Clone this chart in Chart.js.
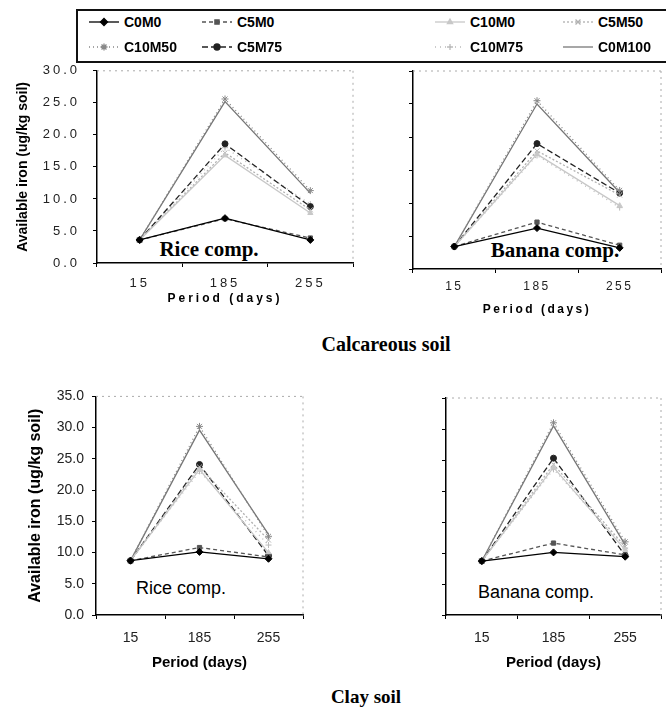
<!DOCTYPE html>
<html>
<head>
<meta charset="utf-8">
<script src="https://cdn.jsdelivr.net/npm/chart.js@4.4.1/dist/chart.umd.min.js"></script>
<style>
  body { margin: 0; width: 666px; height: 712px; background: #fff; position: relative; overflow: hidden;
         font-family: "Liberation Sans", Arial, sans-serif; color: #000; }
  canvas { position: absolute; }
  .txt { position: absolute; transform: translate(-50%, -50%); white-space: nowrap; }
  .serif { font-family: "Liberation Serif", "Times New Roman", serif; font-weight: bold; }
  .sans { font-family: "Liberation Sans", Arial, sans-serif; }
  #legend { position: absolute; left: 76px; top: 9px; width: 610px; height: 50px; border: 2px solid #111; }
  .lg { position: absolute; font: bold 14px "Liberation Sans", Arial, sans-serif; transform: translateY(-50%); }
</style>
</head>
<body>
<div id="legend"></div>

<div class="txt serif" style="left:209px;top:249px;font-size:21px">Rice comp.</div>
<div class="txt serif" style="left:555px;top:250px;font-size:21px">Banana comp.</div>
<div class="txt sans" style="left:181px;top:588px;font-size:18px">Rice comp.</div>
<div class="txt sans" style="left:536px;top:592px;font-size:18px">Banana comp.</div>
<div class="txt serif" style="left:386px;top:344px;font-size:20px">Calcareous soil</div>
<div class="txt serif" style="left:366px;top:697px;font-size:19px">Clay soil</div>

<script>
var periods = ['15', '185', '255'];
var seriesNames = ['C0M0', 'C5M0', 'C10M0', 'C5M50', 'C10M50', 'C5M75', 'C10M75', 'C0M100'];

// one row per series, same order as seriesNames
var calcareousRice = [
  [3.6, 7.0, 3.6],
  [3.6, 6.9, 3.9],
  [3.6, 16.8, 7.8],
  [3.6, 17.2, 8.3],
  [3.6, 25.6, 11.3],
  [3.6, 18.6, 8.8],
  [3.6, 18.0, 9.2],
  [3.6, 25.2, 10.9]
];
var calcareousBanana = [
  [3.4, 6.2, 3.2],
  [3.4, 7.1, 3.6],
  [3.4, 17.4, 9.6],
  [3.4, 17.9, 11.2],
  [3.4, 25.5, 11.9],
  [3.4, 19.0, 11.5],
  [3.4, 17.2, 9.3],
  [3.4, 25.0, 11.6]
];
var clayRice = [
  [8.7, 10.1, 9.0],
  [8.7, 10.8, 9.3],
  [8.7, 23.3, 10.0],
  [8.7, 23.7, 12.0],
  [8.7, 30.2, 12.6],
  [8.7, 24.1, 9.5],
  [8.7, 23.0, 11.2],
  [8.7, 29.6, 12.9]
];
var clayBanana = [
  [8.7, 10.1, 9.4],
  [8.7, 11.6, 9.7],
  [8.7, 23.8, 10.5],
  [8.7, 24.3, 11.0],
  [8.7, 31.0, 11.8],
  [8.7, 25.3, 9.6],
  [8.7, 23.5, 10.8],
  [8.7, 30.5, 11.3]
];

var lineColors = ['#000', '#555', '#c8c8c8', '#b0b0b0', '#888', '#222', '#bbb', '#777'];
var lineDashes = [[], [4, 3], [], [2, 2], [1, 3], [6, 3], [1, 4], []];
var markers = ['rectRot', 'rect', 'triangle', 'crossRot', 'star', 'circle', 'cross', 'circle'];
var markerSizes = [3.5, 3, 3, 3.5, 3.5, 3, 3, 0];

var legendCols = [124, 237, 470, 598];
var legendRows = [22, 47];

// letter spacing on the scanned axis text
function letterSpace(scale, px) {
  if (!px || scale._spaced) return;
  scale._spaced = true;
  ['drawTitle', 'drawLabels'].forEach(function (fn) {
    var orig = scale[fn];
    scale[fn] = function () {
      this.ctx.letterSpacing = px + 'px';
      orig.apply(this, arguments);
      this.ctx.letterSpacing = '0px';
    };
  });
}

// y axis: space the tick numbers only, not the long title
function letterSpaceLabels(scale, px) {
  if (!px || scale._spaced) return;
  scale._spaced = true;
  var orig = scale.drawLabels;
  scale.drawLabels = function () {
    this.ctx.letterSpacing = px + 'px';
    orig.apply(this, arguments);
    this.ctx.letterSpacing = '0px';
  };
}

// faint dotted top and right edges of each plot
var dottedFrame = {
  id: 'dottedFrame',
  afterDraw: function (chart) {
    var a = chart.chartArea, ctx = chart.ctx;
    ctx.save();
    ctx.strokeStyle = '#aaa';
    ctx.lineWidth = 1;
    ctx.setLineDash([2, 4]);
    ctx.beginPath();
    ctx.moveTo(a.left, a.top); ctx.lineTo(a.right, a.top);
    ctx.moveTo(a.right, a.top); ctx.lineTo(a.right, a.bottom);
    ctx.stroke();
    ctx.restore();
  }
};

function makePanel(p) {
  var cv = document.createElement('canvas');
  cv.width = p.w; cv.height = p.h;
  cv.style.left = p.x + 'px'; cv.style.top = p.y + 'px';
  cv.style.width = p.w + 'px'; cv.style.height = p.h + 'px';
  document.body.appendChild(cv);

  var datasets = p.values.map(function (row, i) {
    return {
      label: seriesNames[i],
      data: row,
      borderColor: lineColors[i],
      backgroundColor: lineColors[i],
      borderDash: lineDashes[i],
      borderWidth: 1.3,
      pointStyle: markers[i],
      pointRadius: markerSizes[i],
      pointBorderWidth: 1,
      tension: 0
    };
  });

  return new Chart(cv.getContext('2d'), {
    type: 'line',
    data: { labels: periods, datasets: datasets },
    options: {
      responsive: false,
      animation: false,
      events: [],
      layout: { padding: { left: 0, top: p.padTop, right: p.padRight, bottom: p.padBottom } },
      plugins: { legend: { display: false }, tooltip: { enabled: false } },
      scales: {
        x: {
          offset: true,
          grid: { display: true, drawOnChartArea: false, offset: true, tickLength: 4, color: '#000' },
          border: { color: '#000', width: 1.5 },
          ticks: { color: '#222', font: { size: p.xFont, family: 'Liberation Sans' }, padding: p.xPad, maxRotation: 0 },
          title: { display: true, text: 'Period (days)', color: '#000', padding: 0,
                   font: { size: p.xTitleFont, weight: 'bold', family: 'Liberation Sans', lineHeight: 1 } },
          afterFit: function (s) { s.height = p.xHeight; letterSpace(s, p.spacing); }
        },
        y: {
          min: 0, max: p.yMax,
          grid: { display: true, drawOnChartArea: false, tickLength: 4, color: '#000' },
          border: { color: '#000', width: 1.5 },
          ticks: { stepSize: 5, display: p.yLabels, color: '#222', padding: p.yPad,
                   font: { size: p.yFont, family: 'Liberation Sans' },
                   callback: function (v) { return v.toFixed(1); } },
          title: { display: p.yLabels, text: 'Available iron (ug/kg soil)', color: '#000', padding: { top: p.yTitlePad, bottom: 0 },
                   font: { size: p.yTitleFont, weight: 'bold', family: 'Liberation Sans', lineHeight: 1 } },
          afterFit: function (s) { s.width = p.yWidth; letterSpaceLabels(s, p.spacing); }
        }
      }
    },
    plugins: [dottedFrame]
  });
}

makePanel({ x: 0, y: 50, w: 362, h: 270, padTop: 17, padRight: 9, padBottom: 15,
  values: calcareousRice, yMax: 30, yLabels: true, yWidth: 97, yPad: 13, yFont: 13,
  yTitleFont: 14, yTitlePad: 16, xFont: 13, xPad: 9, xTitleFont: 12, xHeight: 42, spacing: 3 });

makePanel({ x: 380, y: 50, w: 286, h: 290, padTop: 21, padRight: 1, padBottom: 24,
  values: calcareousBanana, yMax: 30, yLabels: false, yWidth: 33, yPad: 0, yFont: 12,
  yTitleFont: 12, yTitlePad: 0, xFont: 12, xPad: 6, xTitleFont: 12, xHeight: 47, spacing: 2.5 });

makePanel({ x: 0, y: 380, w: 320, h: 300, padTop: 12, padRight: 17, padBottom: 10,
  values: clayRice, yMax: 35, yLabels: true, yWidth: 96, yPad: 8, yFont: 14,
  yTitleFont: 16, yTitlePad: 28, xFont: 14, xPad: 11, xTitleFont: 15, xHeight: 55, spacing: 0 });

makePanel({ x: 420, y: 380, w: 246, h: 300, padTop: 18, padRight: 1, padBottom: 10,
  values: clayBanana, yMax: 35, yLabels: false, yWidth: 26, yPad: 0, yFont: 12,
  yTitleFont: 12, yTitlePad: 0, xFont: 14, xPad: 11, xTitleFont: 15, xHeight: 55, spacing: 0 });

// legend: line sample with the series marker, then the name
seriesNames.forEach(function (name, i) {
  var x = legendCols[i % 4];
  var y = legendRows[Math.floor(i / 4)];
  var cv = document.createElement('canvas');
  cv.width = 32; cv.height = 12;
  cv.style.left = (x - 36) + 'px';
  cv.style.top = (y - 6) + 'px';
  document.body.appendChild(cv);
  var ctx = cv.getContext('2d');
  ctx.strokeStyle = lineColors[i];
  ctx.fillStyle = lineColors[i];
  ctx.lineWidth = 1.3;
  ctx.setLineDash(lineDashes[i]);
  ctx.beginPath(); ctx.moveTo(1, 6); ctx.lineTo(31, 6); ctx.stroke();
  ctx.setLineDash([]);
  if (markerSizes[i] > 0) {
    Chart.helpers.drawPoint(ctx, { pointStyle: markers[i], radius: markerSizes[i], borderWidth: 1, rotation: 0 }, 16, 6);
  }
  var t = document.createElement('div');
  t.className = 'lg';
  t.textContent = name;
  t.style.left = x + 'px';
  t.style.top = y + 'px';
  document.body.appendChild(t);
});
</script>
</body>
</html>
